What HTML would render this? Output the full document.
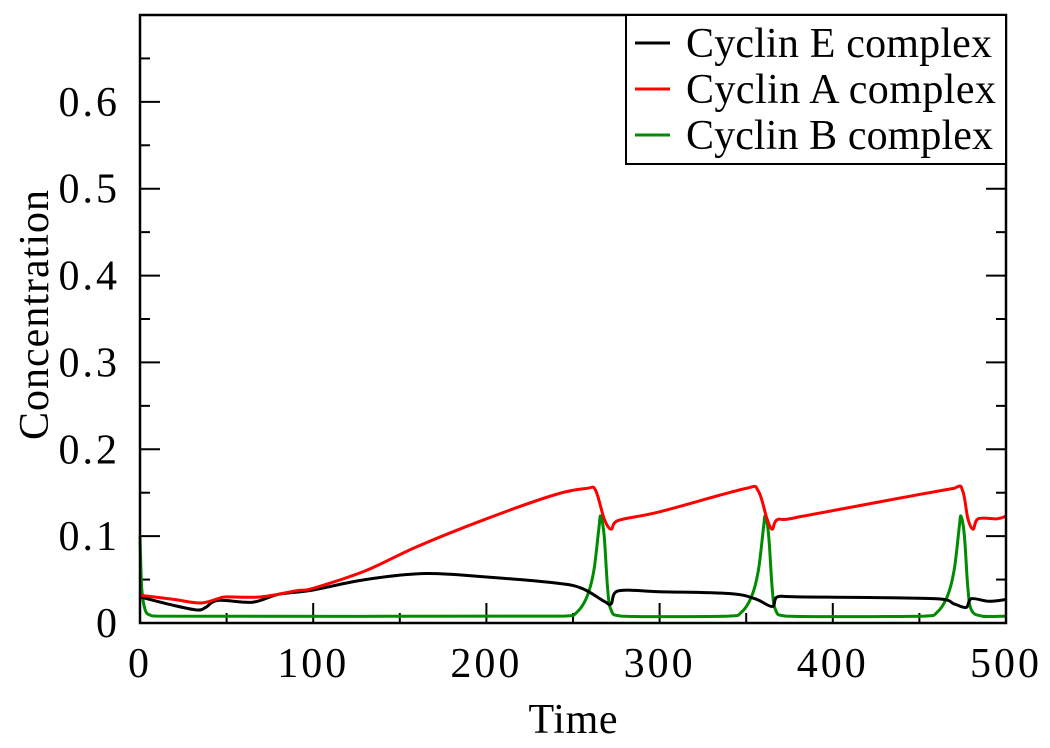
<!DOCTYPE html>
<html><head><meta charset="utf-8"><style>
body{margin:0;background:#fff}
svg{display:block;font-family:"Liberation Serif",serif}
</style></head><body>
<svg id="chart" width="1050" height="748"></svg>
<script>
const xTicks=[0,100,200,300,400,500];
const yTicks=[0,0.1,0.2,0.3,0.4,0.5,0.6];
const yTickLabels=["0","0.1","0.2","0.3","0.4","0.5","0.6"];
const cycE_t=[0,20,33,38,45,65,80,100,130,165,200,240,255,268,272,276,300,340,355,365,368,380,460,470,477,480,490,500];
const cycE_v=[0.03,0.02,0.015,0.018,0.026,0.024,0.033,0.038,0.05,0.057,0.053,0.046,0.04,0.025,0.022,0.037,0.036,0.034,0.028,0.019,0.03,0.03,0.028,0.022,0.018,0.028,0.025,0.027];
const cycA_t=[0,20,35,45,50,70,90,100,130,160,200,240,258,263,268,272,276,300,350,357,362,365,368,380,470,475,478,481,484,495,500];
const cycA_v=[0.032,0.027,0.023,0.028,0.03,0.03,0.037,0.04,0.06,0.088,0.12,0.148,0.155,0.153,0.12,0.108,0.118,0.128,0.155,0.152,0.12,0.108,0.119,0.122,0.155,0.152,0.12,0.108,0.12,0.12,0.123];
const cycB_t=[0,1,3,6,10,245,252,258,262,265,266,268,270,272,278,340,347,353,357,360,361,363,365,367,373,453,460,466,470,473,474,476,478,480,486,500];
const cycB_v=[0.1,0.04,0.015,0.009,0.008,0.008,0.012,0.03,0.06,0.11,0.123,0.1,0.04,0.015,0.008,0.008,0.012,0.03,0.06,0.11,0.123,0.1,0.04,0.015,0.008,0.008,0.012,0.03,0.06,0.11,0.123,0.1,0.04,0.015,0.008,0.008];
const L=140,R=1006,T=15,B=623;
const X=v=>L+(v-0)/500*(R-L);
const Y=v=>B-v/0.7*(B-T);
const svg=document.getElementById('chart');
const NS='http://www.w3.org/2000/svg';
function mk(tag,attrs,parent){const e=document.createElementNS(NS,tag);for(const k in attrs)e.setAttribute(k,attrs[k]);(parent||svg).appendChild(e);return e;}
function line(ts,vs,color,name){
  const P=ts.map((t,i)=>[X(t),Y(vs[i])]);
  let d='M'+P[0][0].toFixed(1)+','+P[0][1].toFixed(1);
  for(let i=0;i<P.length-1;i++){
    const p0=P[i>0?i-1:i],p1=P[i],p2=P[i+1],p3=P[i+2<P.length?i+2:i+1];
    const c1=[p1[0]+(p2[0]-p0[0])/6,p1[1]+(p2[1]-p0[1])/6];
    const c2=[p2[0]-(p3[0]-p1[0])/6,p2[1]-(p3[1]-p1[1])/6];
    c1[0]=Math.min(Math.max(c1[0],p1[0]),p2[0]);c2[0]=Math.min(Math.max(c2[0],p1[0]),p2[0]);
    d+='C'+c1.map(v=>v.toFixed(1)).join(',')+' '+c2.map(v=>v.toFixed(1)).join(',')+' '+p2.map(v=>v.toFixed(1)).join(',');
  }
  const p=mk('path',{d:d,fill:'none',stroke:color,'stroke-width':3,'stroke-linejoin':'round'});
  
  
}
for(let i=0;i<=10;i++){const v=i*50;const len=i%2?10:20;
  mk('line',{x1:X(v),x2:X(v),y1:B,y2:B-len,stroke:'#000','stroke-width':2});}
for(let i=0;i<=14;i++){const v=i*0.05;const len=i%2?10:20;
  mk('line',{x1:L,x2:L+len,y1:Y(v),y2:Y(v),stroke:'#000','stroke-width':2});
  mk('line',{x1:R,x2:R-len,y1:Y(v),y2:Y(v),stroke:'#000','stroke-width':2});}
xTicks.forEach(v=>{const t=mk('text',{x:X(v),y:B+54,'text-anchor':'middle','font-size':42,'letter-spacing':'3'});t.textContent=v;
  });
yTicks.forEach((v,i)=>{const t=mk('text',{x:L-20,y:Y(v)+14,'text-anchor':'end','font-size':42,'letter-spacing':'3'});t.textContent=yTickLabels[i];
  });
line(cycB_t,cycB_v,'#008c00','series-cyclin-b');
line(cycE_t,cycE_v,'#000','series-cyclin-e');
line(cycA_t,cycA_v,'#ff0000','series-cyclin-a');
const fr=mk('rect',{x:L,y:T,width:R-L,height:B-T,fill:'none',stroke:'#000','stroke-width':2.5});

const xt=mk('text',{x:573,y:733,'text-anchor':'middle','font-size':42,textLength:89});xt.textContent='Time';

const yt=mk('text',{x:0,y:0,'text-anchor':'middle','font-size':42,textLength:250,transform:'translate(48,315) rotate(-90)'});yt.textContent='Concentration';

const lg=mk('g',{});
mk('rect',{x:626,y:15,width:380,height:149,fill:'#fff',stroke:'#000','stroke-width':2},lg);
[['Cyclin E complex','#000',306],['Cyclin A complex','#ff0000',310],['Cyclin B complex','#008c00',307]].forEach((e,i)=>{
  const yy=43+i*46;
  const g=mk('g',{},lg);
  mk('line',{x1:635,x2:670,y1:yy,y2:yy,stroke:e[1],'stroke-width':3},g);
  const t=mk('text',{x:686,y:yy+14,'font-size':42,textLength:e[2]},g);t.textContent=e[0];
});
</script>
</body></html>
